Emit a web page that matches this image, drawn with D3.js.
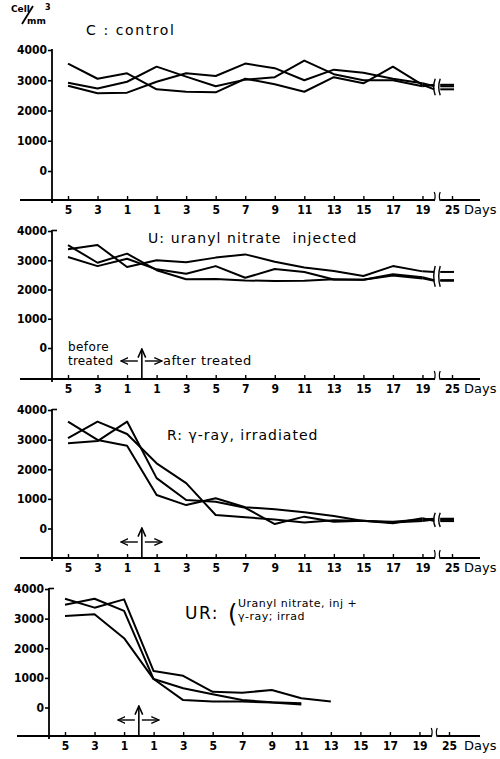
<!DOCTYPE html>
<html>
<head>
<meta charset="utf-8">
<script src="https://cdn.jsdelivr.net/npm/d3@7"></script>
<style>
  body { margin: 0; background: #fff; }
  svg { display: block; }
</style>
</head>
<body>
<svg id="chart" width="500" height="759"></svg>
<script>
// days before (-) / after treatment, last one sits past the axis break
var days = [-5, -3, -1, 1, 3, 5, 7, 9, 11, 13, 15, 17, 19, 25];
var dayLabels = ["5", "3", "1", "1", "3", "5", "7", "9", "11", "13", "15", "17", "19", "25"];
var yTicks = [0, 1000, 2000, 3000, 4000];

// C : control
var control1 = [3550, 3050, 3230, 2700, 2620, 2600, 3050, 2870, 2620, 3100, 2900, 3450, 2850, 2700];
var control2 = [2920, 2730, 2950, 3450, 3120, 2800, 3020, 3100, 3650, 3200, 3000, 3000, 2800, 2850];
var control3 = [2820, 2570, 2590, 2950, 3230, 3140, 3550, 3400, 3000, 3350, 3250, 3050, 2900, 2800];

// U : uranyl nitrate injected
var uranyl1 = [3520, 2915, 3225, 2660, 2350, 2360, 2310, 2290, 2300, 2350, 2330, 2480, 2380, 2300];
var uranyl2 = [3375, 3520, 2770, 3000, 2930, 3090, 3200, 2950, 2750, 2630, 2460, 2800, 2620, 2600];
var uranyl3 = [3110, 2800, 3050, 2690, 2540, 2800, 2400, 2700, 2600, 2340, 2330, 2520, 2420, 2320];

// R : gamma-ray irradiated
var gamma1 = [3610, 2990, 2790, 1130, 790, 1020, 720, 650, 550, 420, 250, 230, 300, 330];
var gamma2 = [3050, 3610, 3190, 2200, 1530, 455, 380, 300, 200, 280, 260, 200, 250, 300];
var gamma3 = [2880, 2950, 3610, 1700, 960, 900, 700, 150, 400, 230, 260, 180, 350, 250];

// UR : uranyl nitrate inj + gamma-ray irrad
var both1 = [3670, 3370, 3650, 1230, 1070, 530, 500, 590, 310, 200, null, null, null, null];
var both2 = [3470, 3670, 3260, 960, 650, 450, 250, 180, 140, null, null, null, null, null];
var both3 = [3090, 3150, 2340, 960, 250, 200, 200, 170, 100, null, null, null, null, null];

var panels = [
  { series: [control1, control2, control3], top: 50, zero: 171, axisY: 200, dx: 0 },
  { series: [uranyl1, uranyl2, uranyl3], top: 231, zero: 348, axisY: 379, dx: 0 },
  { series: [gamma1, gamma2, gamma3], top: 410, zero: 528.5, axisY: 558, dx: 0 },
  { series: [both1, both2, both3], top: 589, zero: 707.5, axisY: 736, dx: -3 }
];

var numFont = "'DejaVu Sans Condensed', 'DejaVu Sans', sans-serif";
var txtFont = "'DejaVu Sans', sans-serif";

var svg = d3.select("#chart");

svg.append("defs").append("marker")
  .attr("id", "head")
  .attr("viewBox", "0 0 10 10")
  .attr("refX", 9).attr("refY", 5)
  .attr("markerWidth", 6).attr("markerHeight", 6)
  .attr("orient", "auto-start-reverse")
  .append("path")
  .attr("d", "M0,1 L9,5 L0,9")
  .attr("fill", "none").attr("stroke", "#000").attr("stroke-width", 1.6);

panels.forEach(function (p, pi) {
  var x = d3.scalePoint().domain(days).range([68 + p.dx, 452 + p.dx]);
  var y = d3.scaleLinear().domain([0, 4000]).range([p.zero, p.top]);
  var g = svg.append("g");
  var axisX = 52 + p.dx;
  var xBreak = (x(19) + x(25)) / 2;

  // y axis
  var ya = g.append("g")
    .attr("transform", "translate(" + axisX + ",0)")
    .call(d3.axisLeft(y).tickValues(yTicks).tickSizeInner(4).tickSizeOuter(0).tickPadding(1).tickFormat(d3.format("d")));
  ya.select(".domain").remove();
  ya.selectAll("line").attr("stroke", "#000").attr("stroke-width", 1.6);
  ya.selectAll("text").attr("font-family", numFont).attr("font-weight", "bold").attr("font-size", 12).attr("fill", "#000");
  g.append("line")
    .attr("x1", axisX).attr("x2", axisX)
    .attr("y1", y(4000) - 1).attr("y2", p.axisY + 3)
    .attr("stroke", "#000").attr("stroke-width", 1.8);
  if (pi > 0) {
    g.append("line")
      .attr("x1", axisX).attr("x2", axisX + 5)
      .attr("y1", y(4000) - 0.5).attr("y2", y(4000) - 0.5)
      .attr("stroke", "#000").attr("stroke-width", 1.6);
  }

  // x axis
  var xa = g.append("g")
    .attr("transform", "translate(0," + p.axisY + ")")
    .call(d3.axisBottom(x).tickSizeInner(-4).tickSizeOuter(0).tickPadding(5)
      .tickFormat(function (d, i) { return dayLabels[i]; }));
  xa.select(".domain").remove();
  xa.selectAll("line").attr("stroke", "#000").attr("stroke-width", 1.4);
  xa.selectAll("text").attr("font-family", numFont).attr("font-weight", "bold").attr("font-size", 12).attr("fill", "#000");
  g.append("line")
    .attr("x1", 20 + p.dx).attr("x2", xBreak - 3)
    .attr("y1", p.axisY).attr("y2", p.axisY)
    .attr("stroke", "#000").attr("stroke-width", 1.8);
  g.append("line")
    .attr("x1", xBreak + 3).attr("x2", 480)
    .attr("y1", p.axisY).attr("y2", p.axisY)
    .attr("stroke", "#000").attr("stroke-width", 1.8);
  [-3, 3].forEach(function (o) {
    g.append("path")
      .attr("d", "M" + (xBreak + o) + "," + (p.axisY + 1) + " Q" + (xBreak + o - o * 0.6) + "," + (p.axisY - 4) + " " + (xBreak + o) + "," + (p.axisY - 8))
      .attr("fill", "none").attr("stroke", "#000").attr("stroke-width", 1.2);
  });
  g.append("text")
    .attr("x", 464).attr("y", p.axisY + 14)
    .attr("font-family", txtFont).attr("font-size", 13).attr("fill", "#000")
    .text("Days");

  // data lines
  var line = d3.line()
    .defined(function (d) { return d.v != null; })
    .x(function (d) { return x(d.day); })
    .y(function (d) { return y(d.v); });
  var ends = [];
  p.series.forEach(function (s) {
    var pts = days.slice(0, 13).map(function (d, i) { return { day: d, v: s[i] }; });
    g.append("path")
      .attr("d", line(pts))
      .attr("fill", "none").attr("stroke", "#000").attr("stroke-width", 2)
      .attr("stroke-linejoin", "round");
    var last = s[13];
    if (last != null) {
      ends.push(last);
      // run from day 19 up to the break, then a short stub at day 25
      g.append("line")
        .attr("x1", x(19)).attr("y1", y(s[12]))
        .attr("x2", xBreak - 3).attr("y2", y(last))
        .attr("stroke", "#000").attr("stroke-width", 2);
      g.append("line")
        .attr("x1", xBreak + 3).attr("x2", x(25) + 2)
        .attr("y1", y(last)).attr("y2", y(last))
        .attr("stroke", "#000").attr("stroke-width", 2);
    }
  });
  if (ends.length) {
    var yTop = y(d3.max(ends)) - 6, yBot = y(d3.min(ends)) + 6;
    [-2, 3].forEach(function (o) {
      g.append("path")
        .attr("d", "M" + (xBreak + o) + "," + yTop + " Q" + (xBreak + o - 3) + "," + ((yTop + yBot) / 2) + " " + (xBreak + o) + "," + yBot)
        .attr("fill", "none").attr("stroke", "#000").attr("stroke-width", 1.4);
    });
  }

  // treatment arrows (panels 2-4)
  if (pi > 0) {
    var xm = (x(-1) + x(1)) / 2;
    var ya2 = p.axisY - (pi === 1 ? 18 : 16);
    g.append("line").attr("x1", xm).attr("x2", xm).attr("y1", p.axisY).attr("y2", p.axisY - 30)
      .attr("stroke", "#000").attr("stroke-width", 1.6).attr("marker-end", "url(#head)");
    g.append("line").attr("x1", xm - 4).attr("x2", xm - 21).attr("y1", ya2).attr("y2", ya2)
      .attr("stroke", "#000").attr("stroke-width", 1.4).attr("marker-end", "url(#head)");
    g.append("line").attr("x1", xm + 3).attr("x2", xm + 20).attr("y1", ya2).attr("y2", ya2)
      .attr("stroke", "#000").attr("stroke-width", 1.4).attr("marker-end", "url(#head)");
  }
});

// labels
function label(xp, yp, str, size, extra) {
  var t = svg.append("text")
    .attr("x", xp).attr("y", yp)
    .attr("font-family", txtFont).attr("font-size", size).attr("fill", "#000")
    .text(str);
  if (extra) extra(t);
  return t;
}

// unit label
label(11, 12, "Cell", 9, function (t) { t.attr("font-weight", "bold"); });
svg.append("line").attr("x1", 22).attr("y1", 24).attr("x2", 33).attr("y2", 6)
  .attr("stroke", "#000").attr("stroke-width", 1.8);
label(27, 24, "mm", 9, function (t) { t.attr("font-weight", "bold"); });
label(45, 10, "3", 8, function (t) { t.attr("font-weight", "bold"); });

label(86, 35, "C : control", 14, function (t) { t.attr("letter-spacing", 1.6); });
label(148, 243, "U: uranyl nitrate  injected", 14, function (t) { t.attr("letter-spacing", 1.1).style("white-space", "pre"); });
label(68, 351, "before", 12, function (t) { t.attr("letter-spacing", 0.4); });
label(68, 365, "treated", 12, function (t) { t.attr("letter-spacing", 0.2); });
label(163, 365, "after treated", 13, function (t) { t.attr("letter-spacing", 0.5); });
label(167, 440, "R: γ-ray, irradiated", 14, function (t) { t.attr("letter-spacing", 1); });
label(185, 619, "UR:", 17, function (t) { t.attr("letter-spacing", 1.5); });
label(228, 622, "(", 24);
label(238, 607, "Uranyl nitrate, inj +", 11, function (t) { t.attr("letter-spacing", 0.5); });
label(238, 620, "γ-ray; irrad", 11, function (t) { t.attr("letter-spacing", 0.5); });
</script>
</body>
</html>
